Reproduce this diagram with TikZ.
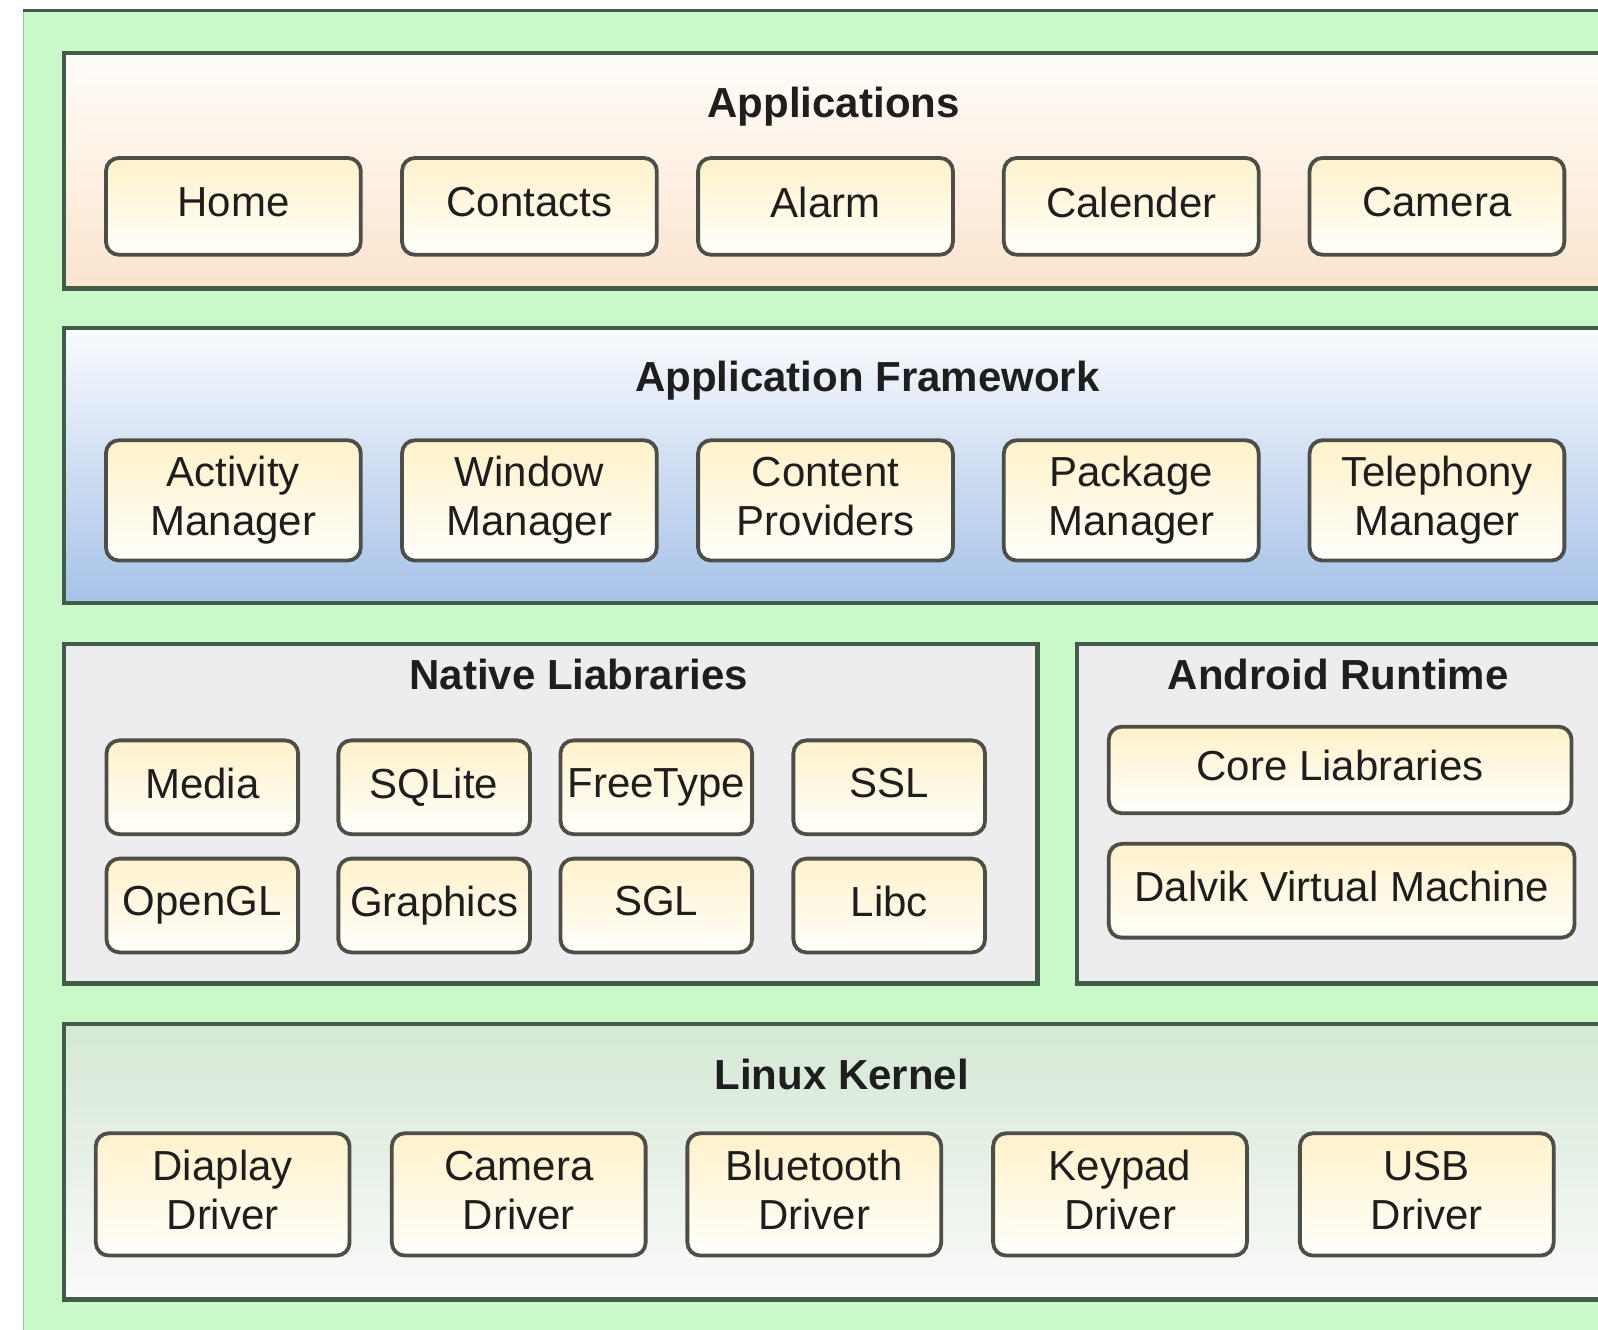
\documentclass[tikz,border=0pt]{standalone}
\usepackage{fontspec}
\setmainfont{Liberation Sans}
\definecolor{bggreen}{RGB}{201,249,201}
\definecolor{layerline}{RGB}{66,92,74}
\definecolor{boxline}{RGB}{78,78,72}
\definecolor{apptop}{RGB}{255,253,249}
\definecolor{appbot}{RGB}{251,228,206}
\definecolor{fwtop}{RGB}{249,251,253}
\definecolor{fwbot}{RGB}{166,194,232}
\definecolor{natfill}{RGB}{237,237,240}
\definecolor{kertop}{RGB}{212,232,212}
\definecolor{kerbot}{RGB}{250,250,250}
\definecolor{boxtop}{RGB}{255,242,202}
\definecolor{boxbot}{RGB}{255,255,251}
\definecolor{txt}{RGB}{30,30,30}
\tikzset{
  layer/.style={draw=layerline, line width=4.2pt},
  comp/.style={draw=boxline, line width=3.8pt, rounded corners=13pt,
    top color=boxtop, bottom color=boxbot, inner sep=0pt,
    align=center, text=txt, font=\fontsize{42}{49}\selectfont,
    execute at begin node={\vphantom{Ag}}, execute at end node={\vphantom{g}}},
  ttl/.style={text=txt, font=\bfseries\fontsize{42}{49}\selectfont, inner sep=0pt}
}
\begin{document}
\begin{tikzpicture}[x=1.0191pt,y=-1.0191pt]
\useasboundingbox (0,0) rectangle (1568,1304.1);
\clip (0,0) rectangle (1568,1304.1);
% outer background
\fill[white] (0,0) rectangle (1568,1304.1);
\fill[bggreen] (23,10) rectangle (1600,1320);
\draw[color=bggreen!80!black, line width=1.5pt] (23,1320) -- (23,10);
\draw[layerline, line width=3pt] (23,10) -- (1600,10);
% layers
\draw[layer, top color=apptop, bottom color=appbot] (63,52) rectangle (1590,283);
\draw[layer, top color=fwtop, bottom color=fwbot] (63,322) rectangle (1590,592);
\draw[layer, fill=natfill] (63,632) rectangle (1018,965);
\draw[layer, fill=natfill] (1057,632) rectangle (1590,965);
\draw[layer, top color=kertop, bottom color=kerbot] (63,1005) rectangle (1590,1275);
% titles
\node[ttl] (tapp) at (818,105) {Applications};
\node[ttl] (tfw) at (851,373) {Application Framework};
\node[ttl] (tnat) at (568,662) {Native Liabraries};
\node[ttl] (trt) at (1313,662) {Android Runtime};
\node[ttl] (tker) at (826,1054) {Linux Kernel};
% applications
\begin{scope}[every node/.append style={comp, minimum width=254.8pt, minimum height=96.8pt}]
\node (home) at (229,202.5) {Home};
\node (contacts) at (519.5,202.5) {Contacts};
\node (alarm) at (810,202.5) {Alarm};
\node (calender) at (1110,202.5) {Calender};
\node (camera) at (1410,202.5) {Camera};
\end{scope}
% framework
\begin{scope}[every node/.append style={comp, minimum width=254.8pt, minimum height=120.3pt}]
\node (actm) at (229,491) {Activity\\Manager};
\node (winm) at (519.5,491) {Window\\Manager};
\node (contp) at (810,491) {Content\\Providers};
\node (pkgm) at (1110,491) {Package\\Manager};
\node (telm) at (1410,491) {Telephony\\Manager};
\end{scope}
% native libraries
\begin{scope}[every node/.append style={comp, minimum width=191.6pt, minimum height=93.8pt}]
\node (media) at (198.5,772.5) {Media};
\node (sqlite) at (426,772.5) {SQLite};
\node (freetype) at (644,772.5) {FreeType};
\node (ssl) at (872.5,772.5) {SSL};
\node (opengl) at (198.5,888.5) {OpenGL};
\node (graphics) at (426,888.5) {Graphics};
\node (sgl) at (644,888.5) {SGL};
\node (libc) at (872.5,888.5) {Libc};
\end{scope}
% runtime
\node[comp, minimum width=462.7pt, minimum height=86.6pt] (core) at (1315,755.5) {Core Liabraries};
\node[comp, minimum width=465.7pt, minimum height=93.8pt] (dalvik) at (1316.5,874) {Dalvik Virtual Machine};
% kernel
\begin{scope}[every node/.append style={comp, minimum width=253.8pt, minimum height=122.3pt}]
\node (disp) at (218.5,1172) {Diaplay\\Driver};
\node (camd) at (509,1172) {Camera\\Driver};
\node (blue) at (799,1172) {Bluetooth\\Driver};
\node (keyp) at (1099,1172) {Keypad\\Driver};
\node (usb) at (1400,1172) {USB\\Driver};
\end{scope}
\end{tikzpicture}
\end{document}
